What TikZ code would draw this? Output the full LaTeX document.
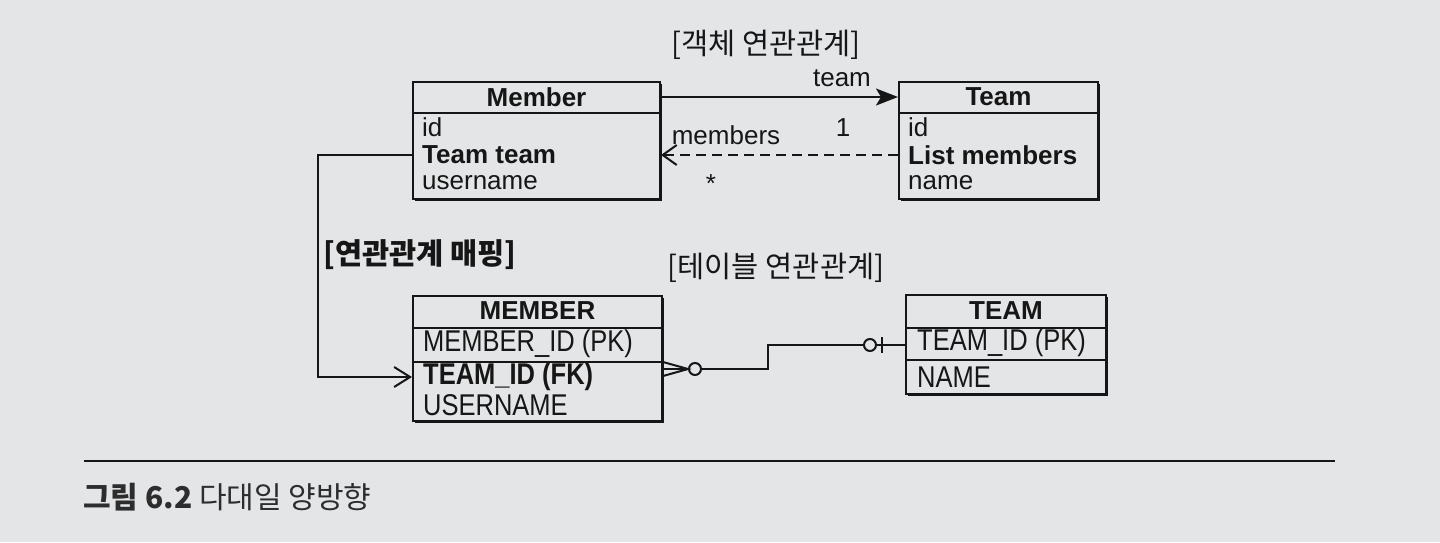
\documentclass[tikz,border=0pt]{standalone}
\usepackage{fontspec}
\setmainfont{Liberation Sans}
\newfontfamily\kr{Noto Sans CJK KR}
\newfontfamily\narrow[FakeStretch=0.85]{Liberation Sans}
\usetikzlibrary{arrows.meta,shadows}
\definecolor{paper}{RGB}{228,229,231}
\definecolor{ink}{RGB}{22,22,22}

\begin{document}
\begin{tikzpicture}[x=1pt,y=-1pt,
  box/.style={draw=ink, line width=2pt, fill=paper, anchor=north west, inner sep=0pt,
    drop shadow={shadow xshift=1.5pt, shadow yshift=-1.5pt, fill=ink, opacity=1}},
  head/.style={inner sep=0pt, text=ink, font=\fontsize{26}{28}\selectfont\bfseries},
  attr/.style={anchor=west, inner sep=0pt, text=ink, font=\fontsize{26}{28}\selectfont},
  col/.style={anchor=west, inner sep=0pt, text=ink, font=\narrow\fontsize{30}{32}\selectfont},
  lbl/.style={inner sep=0pt, text=ink, font=\fontsize{26}{28}\selectfont},
  krlbl/.style={inner sep=0pt, text=ink, font=\kr\fontsize{29.5}{32}\selectfont},
  link/.style={draw=ink, line width=2pt},
  ring/.style={circle, draw=ink, line width=2pt, minimum size=12pt, inner sep=0pt}
  ]

  \fill[paper] (0,0) rectangle (1440,542);

  % 객체 쪽 클래스
  \node[box, minimum width=247pt, minimum height=117pt] (member) at (412,81) {};
  \draw[link] (member.west |- 0,113) -- (member.east |- 0,113);
  \node[head] (member-head) at (member.north |- 0,97) {Member};
  \foreach \txt/\nm [count=\i] in {id/id, {\bfseries Team team}/team, username/uname}{
    \node[attr] (member-\nm) at (422,99+28*\i) {\txt};
  }

  \node[box, minimum width=199pt, minimum height=117pt] (team) at (898,81) {};
  \draw[link] (team.west |- 0,113) -- (team.east |- 0,113);
  \node[head] (team-head) at (team.north |- 0,97) {Team};
  \foreach \txt/\nm [count=\i] in {id/id, {\bfseries List members}/list, name/name}{
    \node[attr] (team-\nm) at (908,99+28*\i) {\txt};
  }

  % 테이블
  \node[box, minimum width=249pt, minimum height=125pt] (MEMBER) at (412,295) {};
  \draw[link] (MEMBER.west |- 0,328) -- (MEMBER.east |- 0,328);
  \draw[link] (MEMBER.west |- 0,362) -- (MEMBER.east |- 0,362);
  \node[head] (MEMBER-head) at (MEMBER.north |- 0,311) {MEMBER};
  \node[col] (MEMBER-id) at (423,344) {MEMBER\_ID (PK)};
  \node[col] (MEMBER-fk) at (423,377) {\bfseries TEAM\_ID (FK)};
  \node[col] (MEMBER-uname) at (423,405) {USERNAME};

  \node[box, minimum width=200pt, minimum height=99pt] (TEAM) at (905,294) {};
  \draw[link] (TEAM.west |- 0,328) -- (TEAM.east |- 0,328);
  \draw[link] (TEAM.west |- 0,360) -- (TEAM.east |- 0,360);
  \node[head] (TEAM-head) at (TEAM.north |- 0,311) {TEAM};
  \node[col] (TEAM-id) at (917,343) {TEAM\_ID (PK)};
  \node[col] (TEAM-name) at (917,377) {NAME};

  % 라벨
  \node[krlbl] (obj-title) at (766,45) {[객체 연관관계]};
  \node[krlbl, font=\kr\fontsize{29.5}{32}\selectfont\bfseries, anchor=west] (map-title) at (323,255) {[연관관계 매핑]};
  \node[krlbl] (tbl-title) at (776,268) {[테이블 연관관계]};
  \node[lbl] (lbl-team) at (842,78) {team};
  \node[lbl] (lbl-members) at (726,135) {members};
  \node[lbl] (lbl-one) at (843,128) {1};
  \node[lbl] (lbl-many) at (711,184) {*};

  % 연관관계
  \draw[link, -{Stealth[length=22pt,width=17pt,inset=5pt]}]
    (member-head -| member.east) -- (team-head -| team.west);
  \draw[link, dash pattern=on 10pt off 6pt, -{Straight Barb[length=14pt,width=20pt]}]
    (team-list -| team.west) -- (team-list -| member.east);
  \draw[link, -{Straight Barb[length=16pt,width=20pt]}]
    (member-team -| member.west) -- ++(-94,0) |- (MEMBER-fk -| MEMBER.west);

  % FK 관계
  \node[ring] (many-end) at (695,369) {};
  \node[ring] (one-end) at (870,345) {};
  \coordinate (elbow) at (768,345);
  \draw[link] (MEMBER.east |- 0,362) -- (many-end.west) -- (MEMBER.east |- 0,376);
  \draw[link] (MEMBER.east |- many-end) -- (many-end.west);
  \draw[link] (many-end.east) -| (elbow) -- (one-end.west);
  \draw[link] (one-end.east) -- (TEAM.west |- one-end);
  \draw[link] ([xshift=12pt,yshift=8pt]one-end.center) -- ([xshift=12pt,yshift=-8pt]one-end.center);

  % 캡션
  \draw[ink, line width=1.4pt] (84,461) -- (1335,461);
  \node[anchor=west, inner sep=0pt, text=ink!90, font=\kr\fontsize{30}{32}\selectfont] (caption)
    at (83,497) {\bfseries 그림 6.2 \mdseries 다대일 양방향};

\end{tikzpicture}
\end{document}
